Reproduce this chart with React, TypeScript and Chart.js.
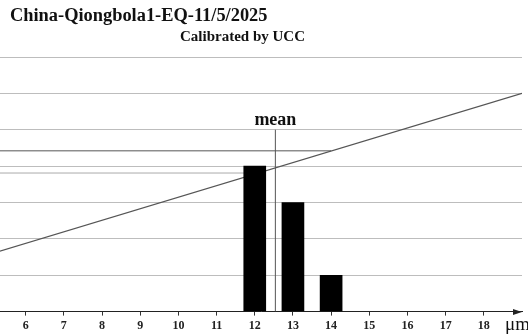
import React, { useEffect, useRef } from "react";
import { Chart, registerables } from "chart.js";

Chart.register(...registerables);

const titleText = "China-Qiongbola1-EQ-11/5/2025";
const subtitleText = "Calibrated by UCC";
const unitText = "μm";
const meanText = "mean";

const xTicks = [6, 7, 8, 9, 10, 11, 12, 13, 14, 15, 16, 17, 18];
const barX = [12, 13, 14];
const barY = [4, 3, 1];

const meanX = 12.54;
const meanTop = 5;

const diagX = [5, 19];
const diagY = [1.56, 6];

const darkLineX = [5, 14.0];
const darkLineY = [4.42, 4.42];

const lightLineX = [5, 12.09];
const lightLineY = [3.81, 3.81];

const xMin = 5.327;
const xMax = 19;
const yMin = 0;
const yMax = 7;

const SERIF = '"Liberation Serif", "Times New Roman", serif';

const pts = (xs: number[], ys: number[]) => xs.map((x, i) => ({ x, y: ys[i] }));

const overlayPlugin = {
  id: "overlay",
  afterDraw(chart: any) {
    const ctx = chart.ctx;
    const xs = chart.scales.x;
    const ys = chart.scales.y;
    const area = chart.chartArea;
    ctx.save();
    ctx.fillStyle = "#111";
    ctx.textBaseline = "alphabetic";
    ctx.textAlign = "left";
    ctx.font = `bold 18.4px ${SERIF}`;
    ctx.fillText(titleText, 10, 20.5);
    ctx.font = `bold 15px ${SERIF}`;
    ctx.fillText(subtitleText, 180, 41);

    ctx.textAlign = "center";
    ctx.font = `bold 18px ${SERIF}`;
    ctx.fillText(meanText, xs.getPixelForValue(meanX), ys.getPixelForValue(meanTop) - 5);

    ctx.textAlign = "left";
    ctx.font = `19px ${SERIF}`;
    ctx.fillText(unitText, 505, 330);

    // arrow head at axis end
    const y0 = ys.getPixelForValue(0);
    const xr = area.right;
    ctx.fillStyle = "#222";
    ctx.beginPath();
    ctx.moveTo(xr, y0 + 0.5);
    ctx.lineTo(xr - 9, y0 - 2.5);
    ctx.lineTo(xr - 9, y0 + 3.5);
    ctx.closePath();
    ctx.fill();
    ctx.restore();
  },
};

export default function App() {
  const ref = useRef<HTMLCanvasElement | null>(null);

  useEffect(() => {
    document.body.style.margin = "0";
    if (!ref.current) return;
    const chart = new Chart(ref.current, {
      type: "line",
      data: {
        datasets: [
          {
            type: "bar",
            data: pts(barX, barY),
            backgroundColor: "#000",
            borderWidth: 0,
            barThickness: 22,
            order: 0,
          } as any,
          {
            type: "line",
            data: pts([meanX, meanX], [0, meanTop]),
            borderColor: "#555",
            borderWidth: 1,
            pointRadius: 0,
            order: 1,
          },
          {
            type: "line",
            data: pts(diagX, diagY),
            borderColor: "#555",
            borderWidth: 1.2,
            pointRadius: 0,
            order: 2,
          },
          {
            type: "line",
            data: pts(darkLineX, darkLineY),
            borderColor: "#555",
            borderWidth: 1,
            pointRadius: 0,
            order: 3,
          },
          {
            type: "line",
            data: pts(lightLineX, lightLineY),
            borderColor: "#aaa",
            borderWidth: 1,
            pointRadius: 0,
            order: 4,
          },
        ],
      },
      options: {
        animation: false,
        responsive: false,
        events: [],
        layout: { padding: { left: 0, right: 6, top: 57, bottom: 0 } },
        plugins: {
          legend: { display: false },
          title: { display: false },
          tooltip: { enabled: false },
        },
        scales: {
          x: {
            type: "linear",
            min: xMin,
            max: xMax,
            offset: false,
            afterBuildTicks: (axis: any) => {
              axis.ticks = xTicks.map((v) => ({ value: v }));
            },
            grid: {
              offset: false,
              drawOnChartArea: false,
              drawTicks: true,
              tickLength: 4,
              color: "#333",
            },
            border: { display: true, color: "#222", width: 1 },
            ticks: {
              color: "#222",
              padding: 3,
              font: { family: SERIF, size: 12, weight: "bold" },
              maxRotation: 0,
              autoSkip: false,
            },
          },
          y: {
            type: "linear",
            min: yMin,
            max: yMax,
            ticks: { display: false, stepSize: 1 },
            border: { display: false },
            grid: { color: "#bdbdbd", drawTicks: false, lineWidth: 1 },
          },
        },
      } as any,
      plugins: [overlayPlugin],
    });
    return () => chart.destroy();
  }, []);

  return (
    <div style={{ width: 528, height: 336, background: "#fff" }}>
      <canvas ref={ref} width={528} height={336} style={{ display: "block" }} />
    </div>
  );
}
